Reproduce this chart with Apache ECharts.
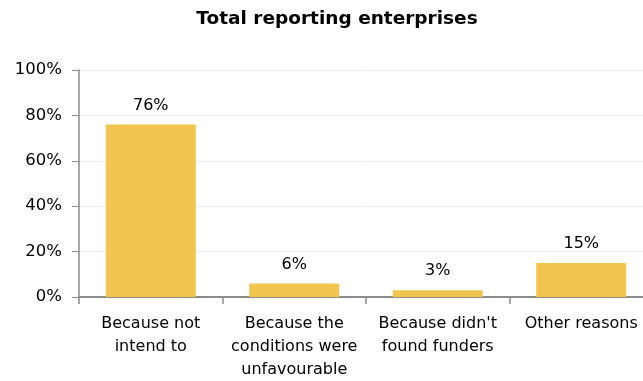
<!DOCTYPE html>
<html>
<head>
<meta charset="utf-8">
<script src="https://cdn.jsdelivr.net/npm/echarts@6/dist/echarts.min.js"></script>
<style>
  html, body { margin: 0; padding: 0; background: #fff; }
  #chart { width: 643px; height: 381px; }
</style>
</head>
<body>
<div id="chart"></div>
<script>
// Reasons for not seeking funding, share of reporting enterprises (%)
var categories = [
  "Because not\nintend to",
  "Because the\nconditions were\nunfavourable",
  "Because didn't\nfound funders",
  "Other reasons"
];
var shares = [76, 6, 3, 15];
var yTicks = [0, 20, 40, 60, 80, 100];

var FONT = "DejaVu Sans, Verdana, sans-serif";
var chart = echarts.init(document.getElementById("chart"));

chart.setOption({
  animation: false,
  title: {
    text: "Total reporting enterprises",
    left: 332,
    top: 5,
    textAlign: "center",
    textStyle: { fontFamily: FONT, fontSize: 18.5, fontWeight: "bold", color: "#000" }
  },
  // plot area runs slightly past the right edge of the canvas
  grid: {
    left: 79, width: 574, top: 70, height: 227,
    containLabel: false,
    outerBoundsMode: "none"
  },
  xAxis: {
    type: "category",
    data: categories,
    axisLine: { lineStyle: { color: "#8c8c8c", width: 2 } },
    axisTick: { show: true, length: 7, lineStyle: { color: "#8c8c8c", width: 1.5 } },
    axisLabel: {
      interval: 0,
      margin: 15,
      fontFamily: FONT,
      fontSize: 16,
      color: "#000",
      lineHeight: 23
    }
  },
  yAxis: {
    type: "value",
    min: yTicks[0],
    max: yTicks[yTicks.length - 1],
    interval: 20,
    axisLine: { show: true, lineStyle: { color: "#8c8c8c", width: 1.5 } },
    axisTick: { show: true, length: 7, lineStyle: { color: "#8c8c8c" } },
    splitLine: { lineStyle: { color: "#ececec", width: 1 } },
    axisLabel: {
      margin: 17,
      fontFamily: FONT,
      fontSize: 16.5,
      color: "#000",
      formatter: function (v) { return v + "%"; }
    }
  },
  series: [{
    type: "bar",
    data: shares,
    barWidth: 90,
    itemStyle: { color: "#F2C54F" },
    label: {
      show: true,
      position: "top",
      distance: 11,
      fontFamily: FONT,
      fontSize: 16,
      color: "#000",
      formatter: function (p) { return p.value + "%"; }
    }
  }]
});
</script>
</body>
</html>
